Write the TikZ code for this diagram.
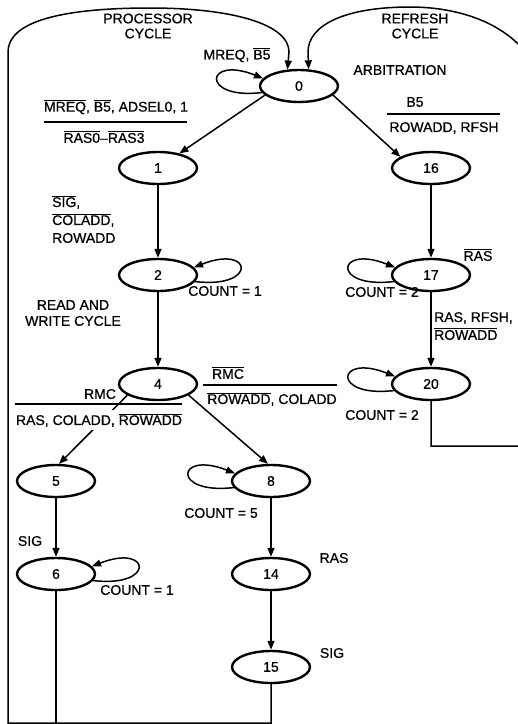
\documentclass[tikz,border=0pt]{standalone}
\usepackage{fontspec}
\setmainfont{Liberation Sans}[FakeBold=0.7]
\usetikzlibrary{shapes.geometric,arrows.meta}
\newcommand\ovl[1]{\ensuremath{\overline{\hbox{#1}}}}
\begin{document}
\begin{tikzpicture}[x=1pt,y=-1pt,
  stnode/.style={ellipse,draw,line width=2.4pt,minimum width=78pt,minimum height=32pt,inner sep=0pt,font=\fontsize{14}{16}\selectfont},
  lbl/.style={font=\fontsize{14}{16}\selectfont,inner sep=1pt},
  ar/.style={line width=1.5pt,-{Triangle[length=9pt,width=7pt]}},
  ln/.style={line width=1.5pt},
  rule/.style={line width=1.3pt}]
\useasboundingbox (0,0) rectangle (518,724);
% states
\node[stnode] (n0) at (299,86) {0};
\node[stnode] (n1) at (158,168) {1};
\node[stnode] (n16) at (431,168) {16};
\node[stnode] (n2) at (158,275) {2};
\node[stnode] (n17) at (431,275) {17};
\node[stnode] (n4) at (158,384) {4};
\node[stnode] (n20) at (431,384) {20};
\node[stnode] (n5) at (56,481) {5};
\node[stnode] (n8) at (271,481) {8};
\node[stnode] (n6) at (56,574) {6};
\node[stnode] (n14) at (271,574) {14};
\node[stnode] (n15) at (271,667) {15};
% frame coordinates
\coordinate (b6) at (56,723);
\coordinate (b15) at (271,723);
\coordinate (bl) at (8,723);
\coordinate (b20) at (431,446);
\coordinate (r20) at (545,446);
% processor cycle return
\draw[ln] (n6) -- (b6);
\draw[ar] (n15) -- (b15) -- (bl) -- (8,52) .. controls (8,22) and (60,8) .. (150,8)
  .. controls (232,8) and (289,24) .. (289,52) -- (n0.125);
% refresh cycle return
\draw[ar] (n20) -- (b20) -- (r20) -- (545,110) .. controls (545,40) and (480,7) .. (410,7)
  .. controls (345,7) and (308,25) .. (308,52) -- (n0.60);
% transitions
\draw[ar] (n0.195) -- (n1);
\draw[ar] (n0.-15) -- (n16.160);
\draw[ar] (n1) -- (n2);
\draw[ar] (n16) -- (n17);
\draw[ar] (n2) -- (n4);
\draw[ar] (n17) -- (n20);
\draw[ar] (n4.-160) -- (n5.80);
\draw[ar] (n4.-20) -- (n8.100);
\draw[ar] (n5) -- (n6);
\draw[ar] (n8) -- (n14);
\draw[ar] (n14) -- (n15);
% self loops
\draw[ar] (n0.190) .. controls (200,100) and (205,55) .. (n0.168);
\draw[ar] (n2.-10) .. controls (258,289) and (253,244) .. (n2.12);
\draw[ar] (n17.190) .. controls (331,289) and (336,244) .. (n17.168);
\draw[ar] (n20.190) .. controls (331,398) and (336,353) .. (n20.168);
\draw[ar] (n8.190) .. controls (171,495) and (176,450) .. (n8.168);
\draw[ar] (n6.-10) .. controls (156,588) and (151,543) .. (n6.12);
% labels
\node[lbl,align=center,font=\fontsize{14}{15}\selectfont] (tproc) at (148,26) {PROCESSOR\\CYCLE};
\node[lbl,align=center,font=\fontsize{14}{15}\selectfont] (tref) at (415,26) {REFRESH\\CYCLE};
\node[lbl] (tl0) at (237,55) {MREQ, \ovl{B5}};
\node[lbl] (tarb) at (400,70) {ARBITRATION};
\node[lbl] (t01a) at (116,107) {\ovl{MREQ}, \ovl{B5}, ADSEL0, 1};
\draw[rule] (44,122) -- (187,122);
\node[lbl] (t01b) at (104,137) {\ovl{RAS0}--\ovl{RAS3}};
\node[lbl] (t016a) at (415,102) {B5};
\draw[rule] (387,114) -- (500,114);
\node[lbl] (t016b) at (444,128) {ROWADD, RFSH};
\node[lbl,anchor=west] (t12a) at (51,202) {\ovl{SIG},};
\node[lbl,anchor=west] (t12b) at (51,220) {\ovl{COLADD},};
\node[lbl,anchor=west] (t12c) at (51,238) {ROWADD};
\node[lbl] (t1617) at (478,255) {\ovl{RAS}};
\node[lbl] (tc2) at (225,291) {COUNT = 1};
\node[lbl] (tc17) at (382,292) {COUNT = 2};
\node[lbl,align=center] (trw) at (73,313) {READ AND\\WRITE CYCLE};
\node[lbl,anchor=west] (t1720a) at (433,318) {RAS, RFSH,};
\node[lbl,anchor=west] (t1720b) at (433,334) {\ovl{ROWADD}};
\node[lbl] (t48a) at (228,373) {\ovl{RMC}};
\draw[rule] (203,385) -- (337,385);
\node[lbl] (t48b) at (272,399) {\ovl{ROWADD}, COLADD};
\node[lbl] (t45a) at (100,394) {RMC};
\draw[rule] (15,404) -- (182,404);
\node[lbl,fill=white,inner sep=3pt] (t45b) at (99,420) {RAS, COLADD, \ovl{ROWADD}};
\node[lbl] (tc20) at (382,415) {COUNT = 2};
\node[lbl] (tc8) at (221,513) {COUNT = 5};
\node[lbl] (t56) at (30,541) {SIG};
\node[lbl] (tc6) at (137,590) {COUNT = 1};
\node[lbl] (t814) at (334,558) {RAS};
\node[lbl] (t1415) at (332,653) {SIG};
\end{tikzpicture}
\end{document}
